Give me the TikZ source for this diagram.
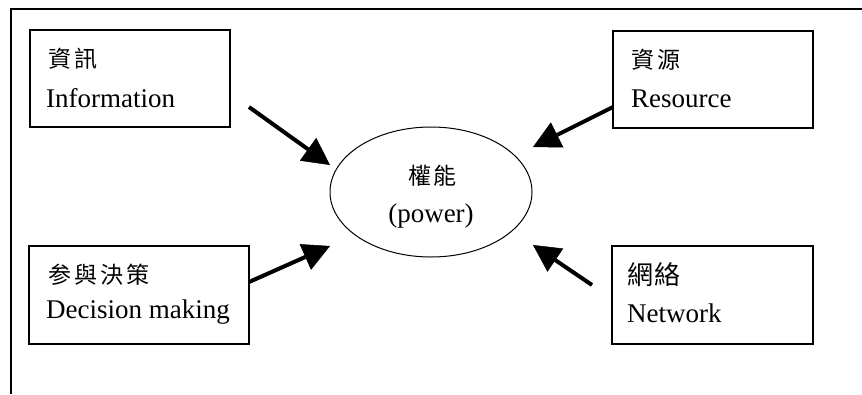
\documentclass[tikz,border=0pt]{standalone}
\usepackage{fontspec}
\setmainfont{Liberation Serif}
\newfontfamily\cjk[LetterSpace=13]{Noto Sans CJK TC}
\newfontfamily\cjkwide[LetterSpace=4]{Noto Sans CJK TC}
\usetikzlibrary{arrows.meta,shapes.geometric}

\begin{document}
\begin{tikzpicture}[x=1pt,y=-1pt,
  outerframe/.style={line width=1.3pt},
  box/.style={draw, line width=1.3pt, rectangle, inner sep=0pt},
  oval/.style={draw, line width=1pt, ellipse, inner sep=0pt},
  entext/.style={inner sep=0pt, anchor=base west, font=\fontsize{27}{30}\selectfont},
  zh/.style={inner sep=0pt, anchor=base west, font=\fontsize{23}{26}\selectfont\cjk},
  arr/.style={line width=4pt, -{Triangle[length=27pt,width=28pt,line width=0.5pt]}}]

\useasboundingbox (0,0) rectangle (862,394);

% open frame: top and left rules only
\draw[outerframe] (11,394) -- (11,9) -- (862,9);

% the four factor boxes
\node[box, minimum width=200pt, minimum height=97pt] (info) at (130,78.5) {};
\node[box, minimum width=200pt, minimum height=97pt] (res)  at (713,79.5) {};
\node[box, minimum width=220pt, minimum height=98pt] (dec)  at (139,295) {};
\node[box, minimum width=201pt, minimum height=98pt] (net)  at (712.5,295) {};

% central ellipse
\node[oval, minimum width=202pt, minimum height=130pt] (power) at (431,192) {};

% box labels
\node[zh] (info-zh) at (48,67) {資訊};
\node[entext] (info-en) at (46,107) {Information};
\node[zh] (res-zh) at (631,68) {資源};
\node[entext] (res-en) at (631,107) {Resource};
\node[zh] (dec-zh) at (48,283) {参與決策};
\node[entext] (dec-en) at (46,318) {Decision making};
\node[zh, font=\fontsize{26}{30}\selectfont\cjkwide] (net-zh) at (627,284) {網絡};
\node[entext] (net-en) at (627,322) {Network};

% ellipse labels
\node[zh, anchor=base] (power-zh) at (432.5,184) {權能};
\node[entext, anchor=base] (power-en) at (431,222) {(power)};

% arrow ends
\coordinate (info-tail) at (249,107);
\coordinate (info-tip)  at (330,165);
\coordinate (res-tail)  at (613,107);
\coordinate (res-tip)   at (533,147);
\coordinate (dec-tail)  at (249,282);
\coordinate (dec-tip)   at (330,246);
\coordinate (net-tail)  at (592,285);
\coordinate (net-tip)   at (533,245);

\draw[arr] (info-tail) -- (info-tip);
\draw[arr] (res-tail) -- (res-tip);
\draw[arr] (dec-tail) -- (dec-tip);
\draw[arr] (net-tail) -- (net-tip);
\end{tikzpicture}
\end{document}
